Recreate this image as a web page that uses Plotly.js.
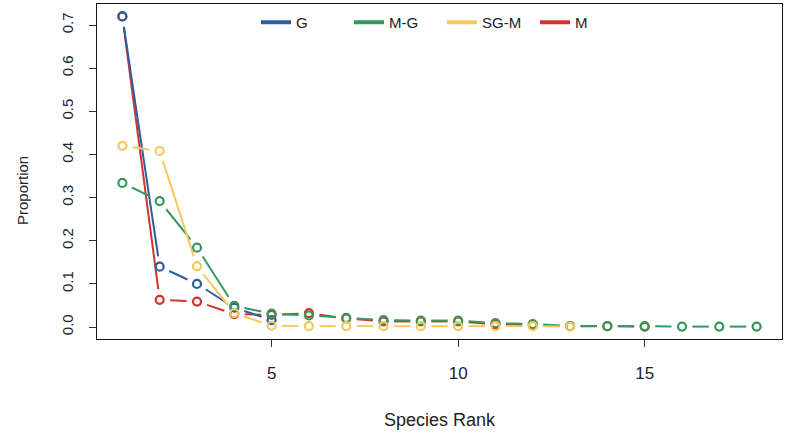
<!DOCTYPE html>
<html>
<head>
<meta charset="utf-8">
<script src="https://cdn.plot.ly/plotly-3.0.1.min.js"></script>
<style>html,body{margin:0;padding:0;background:#fff;}#chart{width:785px;height:434px;}</style>
</head>
<body>
<div id="chart"></div>
<script>
// ---- data ----
const seriesNames = ["G", "M-G", "SG-M", "M"];
const seriesColors = ["#2b5f9e", "#35995a", "#f5c85e", "#d4322f"];
const rankG   = [1, 2, 3, 4, 5];
const valG    = [0.72, 0.140, 0.100, 0.045, 0.016];
const rankMG  = [1, 2, 3, 4, 5, 6, 7, 8, 9, 10, 11, 12, 13, 14, 15, 16, 17, 18];
const valMG   = [0.334, 0.292, 0.184, 0.049, 0.031, 0.027, 0.021, 0.016, 0.015, 0.015, 0.009, 0.007, 0.002, 0.002, 0.002, 0.001, 0.001, 0.001];
const rankSGM = [1, 2, 3, 4, 5, 6, 7, 8, 9, 10, 11, 12, 13];
const valSGM  = [0.420, 0.408, 0.141, 0.032, 0.003, 0.002, 0.002, 0.002, 0.002, 0.002, 0.002, 0.002, 0.001];
const rankM   = [1, 2, 3, 4, 5, 6, 7, 8, 9, 10, 11, 12, 13, 14, 15];
const valM    = [0.72, 0.063, 0.059, 0.030, 0.028, 0.032, 0.020, 0.013, 0.013, 0.013, 0.006, 0.005, 0.002, 0.002, 0.001];
const xTicks  = [5, 10, 15];
const yTicks  = [0.0, 0.1, 0.2, 0.3, 0.4, 0.5, 0.6, 0.7];
const yTickText = ["0.0", "0.1", "0.2", "0.3", "0.4", "0.5", "0.6", "0.7"];
const xTitle = "Species Rank";
const yTitle = "Proportion";

// ---- layout geometry ----
const W = 785, H = 434;
const M = {l: 97, r: 3, t: 4, b: 95};
const PW = W - M.l - M.r, PH = H - M.t - M.b;

const allX = [].concat(rankG, rankMG, rankSGM, rankM);
const allY = [].concat(valG, valMG, valSGM, valM);
function padRange(a) { const lo = Math.min(...a), hi = Math.max(...a), p = (hi - lo) * 0.04; return [lo - p, hi + p]; }
const xr = padRange(allX), yr = padRange(allY);
const kx = PW / (xr[1] - xr[0]), ky = PH / (yr[1] - yr[0]);
const GAP = 10.5; // px gap around points (R type="b")

function gapped(xs, ys) {
  const lx = [], ly = [];
  for (let i = 0; i < xs.length - 1; i++) {
    const dx = (xs[i + 1] - xs[i]) * kx, dy = (ys[i + 1] - ys[i]) * ky;
    const L = Math.hypot(dx, dy);
    if (L <= 2 * GAP) continue;
    const t = GAP / L;
    const ex = xs[i + 1] - xs[i], ey = ys[i + 1] - ys[i];
    lx.push(xs[i] + ex * t, xs[i + 1] - ex * t, null);
    ly.push(ys[i] + ey * t, ys[i + 1] - ey * t, null);
  }
  return {x: lx, y: ly};
}

// drawing order: M, G, M-G, SG-M
const order = [3, 0, 1, 2];
const dataX = [rankG, rankMG, rankSGM, rankM];
const dataY = [valG, valMG, valSGM, valM];
const traces = [];
order.forEach(i => {
  const g = gapped(dataX[i], dataY[i]);
  traces.push({x: g.x, y: g.y, type: "scatter", mode: "lines", connectgaps: false,
    line: {color: seriesColors[i], width: 2}, showlegend: false, hoverinfo: "skip"});
  traces.push({x: dataX[i], y: dataY[i], type: "scatter", mode: "markers",
    marker: {symbol: "circle-open", size: 8, color: seriesColors[i], line: {width: 2.2, color: seriesColors[i]}},
    showlegend: false, name: seriesNames[i]});
});
// legend entries
seriesNames.forEach((n, i) => {
  traces.push({x: [null], y: [null], type: "scatter", mode: "lines", name: n,
    line: {color: seriesColors[i], width: 4}, showlegend: true});
});

const fontFam = "Arial, 'Liberation Sans', sans-serif";
const layout = {
  width: W, height: H,
  margin: M,
  paper_bgcolor: "#fff", plot_bgcolor: "#fff",
  font: {family: fontFam, color: "#222", size: 15},
  showlegend: true,
  legend: {orientation: "h", x: (256 - M.l) / PW, xanchor: "left", y: (M.t + PH - 22.5) / PH, yanchor: "middle",
    itemwidth: 30, entrywidth: 48, entrywidthmode: "pixels", bgcolor: "rgba(0,0,0,0)",
    font: {size: 15, family: fontFam, color: "#222"}, traceorder: "normal", itemclick: false},
  xaxis: {range: xr, tickmode: "array", tickvals: xTicks, ticktext: xTicks.map(String),
    showgrid: false, zeroline: false, showline: true, mirror: true, linecolor: "#111", linewidth: 1,
    ticks: "outside", ticklen: 7, tickcolor: "#333", tickwidth: 1, ticklabelstandoff: 12,
    tickfont: {size: 17},
    title: {text: xTitle, font: {size: 18}, standoff: 30}, automargin: false},
  yaxis: {range: yr, tickmode: "array", tickvals: yTicks, ticktext: yTickText, tickangle: -90,
    showgrid: false, zeroline: false, showline: true, mirror: true, linecolor: "#111", linewidth: 1,
    ticks: "outside", ticklen: 7, tickcolor: "#333", tickwidth: 1, ticklabelstandoff: 10,
    tickfont: {size: 15}, automargin: false},
  annotations: [{text: yTitle, xref: "paper", yref: "paper", x: (22 - M.l) / PW, y: (M.t + PH - 191) / PH,
    xanchor: "center", yanchor: "middle", textangle: -90, showarrow: false, font: {size: 15, color: "#222"}}]
};
Plotly.newPlot("chart", traces, layout, {staticPlot: true, displayModeBar: false});
</script>
</body>
</html>
